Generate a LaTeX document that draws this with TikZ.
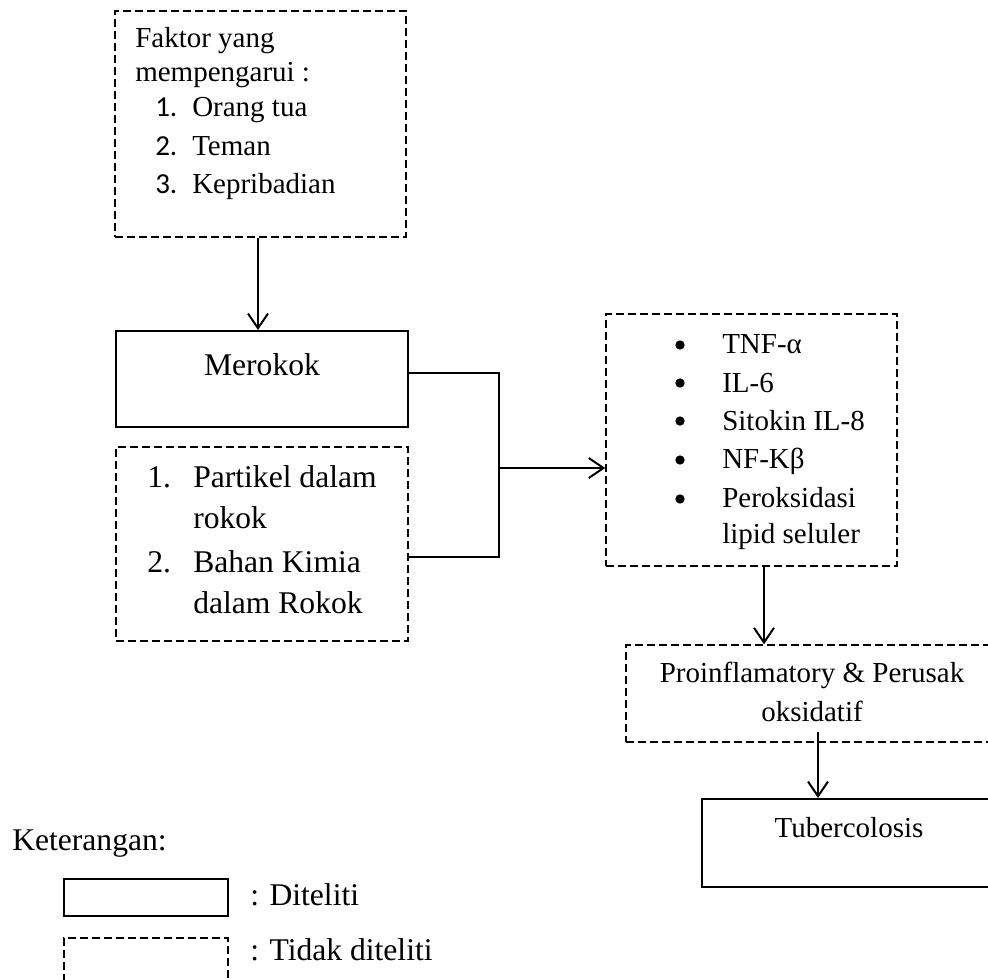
\documentclass[tikz,border=0pt]{standalone}
\usepackage{fontspec}
\setmainfont{Liberation Serif}
\newfontfamily\numfont{Carlito}
\usetikzlibrary{arrows.meta}
\tikzset{
  solidbox/.style={draw, line width=1.5pt, rectangle, inner sep=0pt},
  dashbox/.style={draw, line width=1.1pt, rectangle, inner sep=0pt, dash pattern=on 6pt off 3pt},
  txt/.style={anchor=base west, inner sep=0pt, font=\fontsize{21.75}{26}\selectfont},
  ctxt/.style={anchor=base, inner sep=0pt, font=\fontsize{21.75}{26}\selectfont},
  bigtxt/.style={anchor=base west, inner sep=0pt, font=\fontsize{23.7}{28}\selectfont},
  bigctxt/.style={anchor=base, inner sep=0pt, font=\fontsize{23.7}{28}\selectfont},
  arr/.style={line width=1.5pt, -{Straight Barb[length=11pt,width=15pt,line width=1.5pt]}},
  thin/.style={line width=0.8pt},
  bul/.style={circle, fill, inner sep=0pt, minimum size=7pt}
}
\begin{document}
\begin{tikzpicture}[x=0.75pt,y=-0.75pt]
\useasboundingbox (0,0) rectangle (988,979);
% boxes
\node[dashbox, minimum width=218.25pt, minimum height=169.5pt] (faktor) at (260.5,124) {};
\node[solidbox, minimum width=219pt, minimum height=72pt] (merokok) at (262,379) {};
\node[dashbox, minimum width=219pt, minimum height=145.5pt] (bahan) at (262,544) {};
\node[dashbox, minimum width=218.25pt, minimum height=189pt] (tnf) at (751.5,440) {};
\node[dashbox, minimum width=280.5pt, minimum height=72.75pt] (proinf) at (813,693.5) {};
\node[solidbox, minimum width=223.5pt, minimum height=66pt] (tb) at (851,843) {};
\node[solidbox, minimum width=123pt, minimum height=27.75pt] (leg1) at (146,897.5) {};
\node[dashbox, minimum width=123pt, minimum height=60pt] (leg2) at (146,978) {};
% faktor text
\node[txt] (f1) at (135,47) {Faktor yang};
\node[txt] (f2) at (135,81) {mempengarui :};
\node[txt] (f3n) at (155,116) {\numfont 1.};
\node[txt] (f3) at (192,116) {Orang tua};
\node[txt] (f4n) at (155,155) {\numfont 2.};
\node[txt] (f4) at (192,155) {Teman};
\node[txt] (f5n) at (155,193) {\numfont 3.};
\node[txt] (f5) at (192,193) {Kepribadian};
% merokok
\node[bigctxt] (mtext) at (262,375) {Merokok};
% bahan text
\node[bigtxt] (b1n) at (147,487) {1.};
\node[bigtxt] (b1) at (193,487) {Partikel dalam};
\node[bigtxt] (b2) at (193,528) {rokok};
\node[bigtxt] (b3n) at (147,572) {2.};
\node[bigtxt] (b3) at (193,572) {Bahan Kimia};
\node[bigtxt] (b4) at (193,613) {dalam Rokok};
% tnf list
\node[bul] (d1) at (680,345) {};
\node[txt] (t1) at (722,353) {TNF-α};
\node[bul] (d2) at (680,383) {};
\node[txt] (t2) at (722,392) {IL-6};
\node[bul] (d3) at (680,421) {};
\node[txt] (t3) at (722,430) {Sitokin IL-8};
\node[bul] (d4) at (680,460) {};
\node[txt] (t4) at (722,468) {NF-Kβ};
\node[bul] (d5) at (680,499) {};
\node[txt] (t5) at (722,507) {Peroksidasi};
\node[txt] (t6) at (722,543) {lipid seluler};
% proinf
\node[ctxt] (p1) at (812,682) {Proinflamatory \& Perusak};
\node[ctxt] (p2) at (812,721) {oksidatif};
% tb
\node[ctxt] (tbt) at (849,837) {Tubercolosis};
% legend
\node[bigtxt] (ket) at (12,850) {Keterangan:};
\node[bigtxt] (l1) at (250,905) {: Diteliti};
\node[bigtxt] (l2) at (250,960) {: Tidak diteliti};
% connectors
\draw[arr] (258,0 |- faktor.south) -- (258,0 |- merokok.north);
\coordinate (jtop) at (499,373);
\coordinate (jbot) at (499,557);
\coordinate (jmid) at (499,468);
\draw[thin] (merokok.east |- jtop) -- (jtop) -- (jbot) -- (bahan.east |- jbot);
\draw[arr] (jmid) -- (tnf.west |- jmid);
\draw[arr] (764,0 |- tnf.south) -- (764,0 |- proinf.north);
\coordinate (pstart) at (818,732);
\draw[arr] (pstart) -- (pstart |- tb.north);
\end{tikzpicture}
\end{document}
